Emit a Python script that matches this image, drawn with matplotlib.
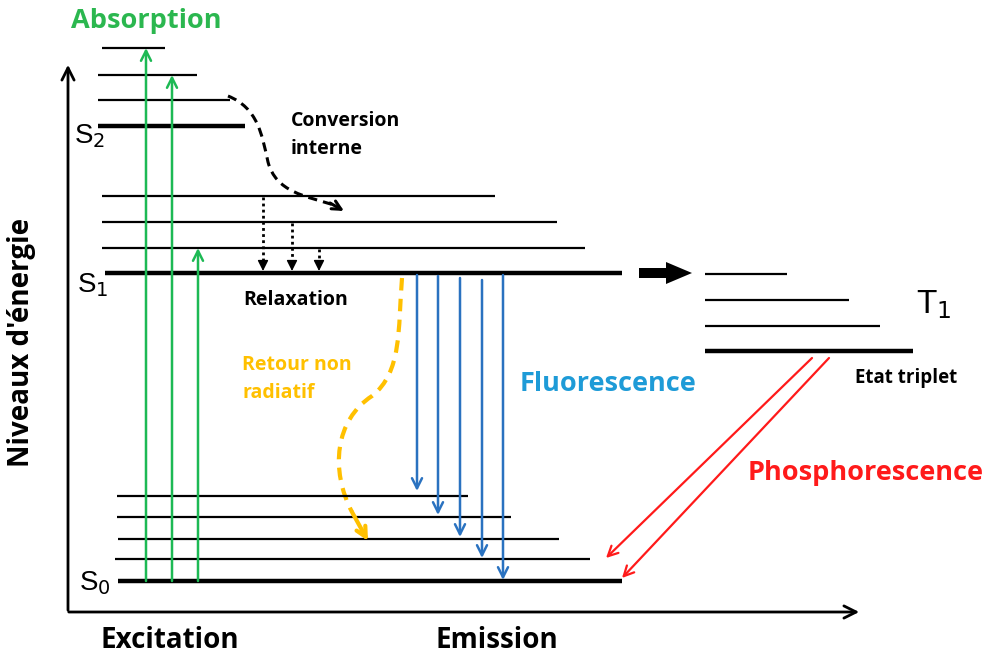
import matplotlib
matplotlib.use('Agg')
import matplotlib.pyplot as plt
from matplotlib.path import Path
from matplotlib.patches import PathPatch, FancyArrow

# Energy levels (y position, x start, x end) -- last one of each group is the fundamental level
s2_y = [48, 75, 100, 126]
s2_x0 = [102, 98, 98, 98]
s2_x1 = [165, 197, 230, 245]
s1_y = [196, 222, 248, 273]
s1_x0 = [102, 102, 102, 105]
s1_x1 = [495, 557, 585, 622]
t1_y = [274, 300, 326, 351]
t1_x0 = [705, 705, 705, 705]
t1_x1 = [787, 849, 880, 913]
s0_y = [496, 517, 539, 559, 581]
s0_x0 = [117, 117, 118, 115, 118]
s0_x1 = [468, 511, 559, 590, 622]

# Absorption arrows: x, from y, to y
abs_x = [146, 172, 198]
abs_y0 = [581, 581, 581]
abs_y1 = [48, 75, 248]

# Vibrational relaxation (dotted)
rel_x = [263, 292, 319]
rel_y0 = [197, 223, 249]
rel_y1 = [271, 271, 271]

# Fluorescence arrows
fluo_x = [417, 438, 460, 482, 503]
fluo_y0 = [275, 276, 278, 280, 275]
fluo_y1 = [491, 515, 537, 558, 580]

# Phosphorescence arrows (x0, y0) -> (x1, y1)
phos_x0 = [812, 829]
phos_y0 = [358, 358]
phos_x1 = [606, 622]
phos_y1 = [558, 578]

GREEN = '#1db954'
GREEN_TXT = '#2bb74f'
BLUE = '#2a72c0'
BLUE_TXT = '#1e9bd7'
RED = '#ff1a1a'
ORANGE = '#ffc000'

fig = plt.figure(figsize=(9.85, 6.57), dpi=100)
ax = fig.add_axes([0, 0, 1, 1])
ax.set_xlim(0, 985)
ax.set_ylim(657, 0)
ax.axis('off')

# axes arrows
ax.annotate('', xy=(68, 62), xytext=(68, 613),
            arrowprops=dict(arrowstyle='->', lw=2, color='black', mutation_scale=22))
ax.annotate('', xy=(862, 612), xytext=(66, 612),
            arrowprops=dict(arrowstyle='->', lw=2, color='black', mutation_scale=22))

# levels
for ys, x0s, x1s in [(s2_y, s2_x0, s2_x1), (s1_y, s1_x0, s1_x1),
                     (t1_y, t1_x0, t1_x1), (s0_y, s0_x0, s0_x1)]:
    for i in range(len(ys)):
        fundamental = (i == len(ys) - 1)
        ax.plot([x0s[i], x1s[i]], [ys[i], ys[i]], color='black',
                lw=3.2 if fundamental else 1.6, solid_capstyle='butt')

# absorption
for x, y0, y1 in zip(abs_x, abs_y0, abs_y1):
    ax.annotate('', xy=(x, y1), xytext=(x, y0),
                arrowprops=dict(arrowstyle='->', lw=1.8, color=GREEN, mutation_scale=18,
                                shrinkA=0, shrinkB=0))

# relaxation
for x, y0, y1 in zip(rel_x, rel_y0, rel_y1):
    ax.plot([x, x], [y0, y1 - 8], color='black', lw=2, ls=(0, (1, 1.2)))
    ax.annotate('', xy=(x, y1), xytext=(x, y1 - 10),
                arrowprops=dict(arrowstyle='-|>', lw=1, color='black', mutation_scale=16,
                                shrinkA=0, shrinkB=0))

# fluorescence
for x, y0, y1 in zip(fluo_x, fluo_y0, fluo_y1):
    ax.annotate('', xy=(x, y1), xytext=(x, y0),
                arrowprops=dict(arrowstyle='->', lw=1.8, color=BLUE, mutation_scale=18,
                                shrinkA=0, shrinkB=0))

# phosphorescence
for x0, y0, x1, y1 in zip(phos_x0, phos_y0, phos_x1, phos_y1):
    ax.annotate('', xy=(x1, y1), xytext=(x0, y0),
                arrowprops=dict(arrowstyle='->', lw=1.6, color=RED, mutation_scale=18,
                                shrinkA=0, shrinkB=0))

# intersystem crossing block arrow
ax.add_patch(FancyArrow(639, 273, 53, 0, width=10, head_width=22, head_length=26,
                        length_includes_head=True, color='black', lw=0))

# internal conversion (dashed curve)
conv = Path([(228, 96), (258, 108), (262, 135), (268, 162),
             (276, 192), (305, 196), (334, 205)],
            [Path.MOVETO, Path.CURVE4, Path.CURVE4, Path.CURVE4,
             Path.CURVE4, Path.CURVE4, Path.CURVE4])
ax.add_patch(PathPatch(conv, fill=False, lw=2.2, ls=(0, (3, 2)), color='black'))
ax.annotate('', xy=(344, 211), xytext=(330, 203),
            arrowprops=dict(arrowstyle='->', lw=2.2, color='black', mutation_scale=16,
                            shrinkA=0, shrinkB=0))

# non radiative return (orange dashed curve)
nrad = Path([(402, 278), (398, 330), (402, 372), (372, 396),
             (335, 420), (330, 470), (352, 512)],
            [Path.MOVETO, Path.CURVE4, Path.CURVE4, Path.CURVE4,
             Path.CURVE4, Path.CURVE4, Path.CURVE4])
ax.add_patch(PathPatch(nrad, fill=False, lw=3, ls=(0, (3, 2)), color=ORANGE))
ax.annotate('', xy=(368, 541), xytext=(352, 512),
            arrowprops=dict(arrowstyle='->', lw=3, color=ORANGE, mutation_scale=18,
                            shrinkA=0, shrinkB=0))

# texts
bold = dict(family='Open Sans', fontweight='bold')
ax.text(146, 21, 'Absorption', color=GREEN_TXT, fontsize=19.5, ha='center', va='center', **bold)
ax.text(608, 384, 'Fluorescence', color=BLUE_TXT, fontsize=19.5, ha='center', va='center', **bold)
ax.text(866, 473, 'Phosphorescence', color=RED, fontsize=19.5, ha='center', va='center', **bold)
ax.text(170, 640, 'Excitation', color='black', fontsize=20, ha='center', va='center', **bold)
ax.text(497, 640, 'Emission', color='black', fontsize=20, ha='center', va='center', **bold)
ax.text(22, 342, "Niveaux d'énergie", color='black', fontsize=20, rotation=90,
        ha='center', va='center', **bold)
ax.text(291, 121, 'Conversion', color='black', fontsize=14, ha='left', va='center', **bold)
ax.text(291, 149, 'interne', color='black', fontsize=14, ha='left', va='center', **bold)
ax.text(243, 300, 'Relaxation', color='black', fontsize=14, ha='left', va='center', **bold)
ax.text(242, 365, 'Retour non', color=ORANGE, fontsize=14, ha='left', va='center', **bold)
ax.text(242, 393, 'radiatif', color=ORANGE, fontsize=14, ha='left', va='center', **bold)
ax.text(855, 378, 'Etat triplet', color='black', fontsize=13.5, ha='left', va='center', **bold)

arial = dict(family='Liberation Sans')
ax.text(74, 136, r'S$_2$', fontsize=20, ha='left', va='center', **arial)
ax.text(77, 285, r'S$_1$', fontsize=20, ha='left', va='center', **arial)
ax.text(79, 583, r'S$_0$', fontsize=20, ha='left', va='center', **arial)
ax.text(916, 305, r'T$_1$', fontsize=24, ha='left', va='center', **arial)

fig.savefig('out.png', dpi=100)
